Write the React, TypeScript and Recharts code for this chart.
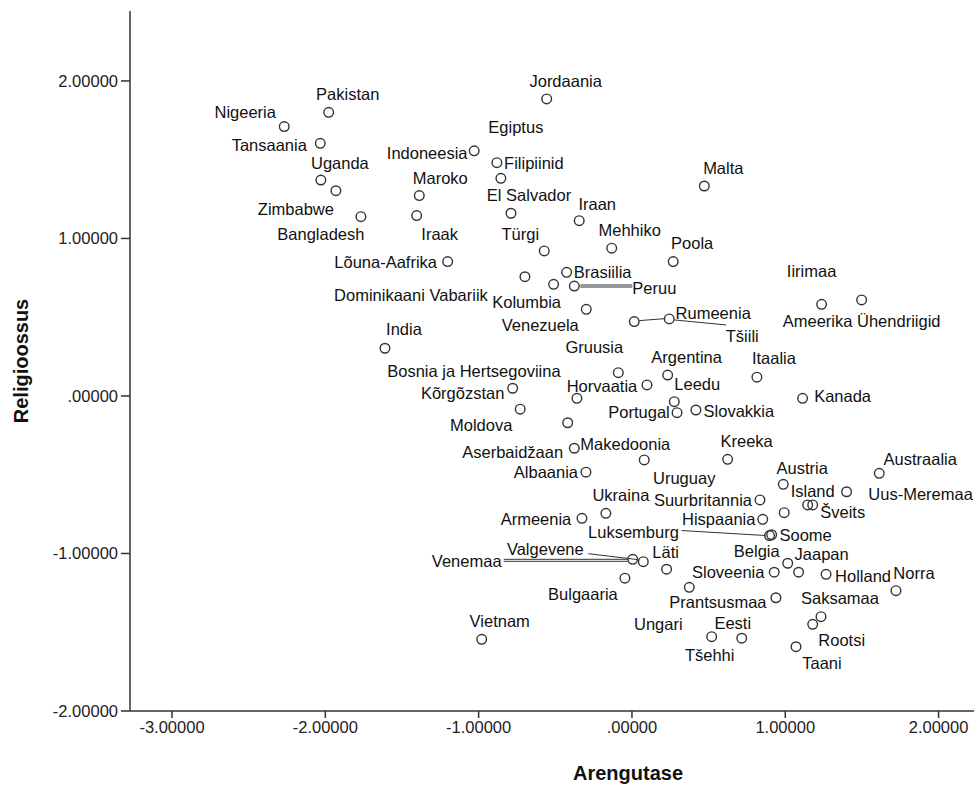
import React from 'react';
import { ScatterChart, Scatter, XAxis, YAxis } from 'recharts';

// country labels, x = Arengutase, y = Religioossus
const countries = [
  'Nigeeria', 'Pakistan', 'Tansaania', 'Uganda', 'Zimbabwe', 'Bangladesh', 'Indoneesia', 'Maroko', 'Iraak',
  'Lõuna-Aafrika', 'Jordaania', 'Filipiinid', 'Egiptus', 'El Salvador', 'Iraan', 'Malta', 'Türgi', 'Mehhiko',
  'Poola', 'Brasiilia', 'Dominikaani Vabariik', 'Kolumbia', 'Peruu', 'Venezuela', 'Tšiili', 'Rumeenia',
  'Iirimaa', 'Ameerika Ühendriigid', 'India', 'Gruusia', 'Argentina', 'Itaalia', 'Bosnia ja Hertsegoviina',
  'Kõrgõzstan', 'Horvaatia', 'Leedu', 'Kanada', 'Portugal', 'Slovakkia', 'Moldova', 'Aserbaidžaan',
  'Makedoonia', 'Uruguay', 'Kreeka', 'Albaania', 'Austria', 'Austraalia', 'Uus-Meremaa', 'Island', 'Šveits',
  'Suurbritannia', 'Hispaania', '', 'Ukraina', 'Armeenia', 'Soome', 'Luksemburg', 'Venemaa', 'Valgevene',
  'Läti', 'Bulgaaria', 'Ungari', 'Belgia', 'Sloveenia', 'Jaapan', 'Holland', 'Norra', 'Prantsusmaa',
  'Saksamaa', 'Rootsi', 'Taani', 'Tšehhi', 'Eesti', 'Vietnam',
];

const arengutase = [
  -2.268, -1.978, -2.033, -2.029, -1.931, -1.768, -1.029, -1.387, -1.404,
  -1.202, -0.556, -0.881, -0.855, -0.789, -0.344, 0.472, -0.572, -0.132,
  0.269, -0.426, -0.698, -0.511, -0.376, -0.298, 0.015, 0.243,
  1.237, 1.498, -1.611, -0.089, 0.233, 0.815, -0.359,
  -0.778, 0.098, 0.276, 1.113, 0.294, 0.417, -0.729, -0.419,
  -0.376, 0.080, 0.624, -0.300, 0.987, 1.613, 1.400, 1.146, 1.179,
  0.835, 0.853, 0.993, -0.170, -0.326, 0.911, 0.897, 0.005, 0.074,
  0.226, -0.046, 0.374, 1.016, 0.928, 1.087, 1.266, 1.722, 0.939,
  1.233, 1.179, 1.070, 0.520, 0.716, -0.980,
];

const religioossus = [
  1.710, 1.801, 1.604, 1.371, 1.303, 1.138, 1.556, 1.272, 1.145,
  0.853, 1.886, 1.481, 1.382, 1.160, 1.113, 1.333, 0.921, 0.938,
  0.853, 0.785, 0.757, 0.709, 0.698, 0.550, 0.472, 0.489,
  0.582, 0.610, 0.303, 0.148, 0.133, 0.119, -0.015,
  0.049, 0.070, -0.036, -0.015, -0.106, -0.089, -0.084, -0.170,
  -0.332, -0.406, -0.402, -0.484, -0.561, -0.491, -0.608, -0.692, -0.692,
  -0.660, -0.783, -0.741, -0.745, -0.777, -0.881, -0.886, -1.037, -1.052,
  -1.100, -1.157, -1.215, -1.062, -1.119, -1.119, -1.132, -1.236, -1.281,
  -1.401, -1.450, -1.592, -1.528, -1.538, -1.545,
];

const xTicks = [-3, -2, -1, 0, 1, 2];
const yTicks = [-2, -1, 0, 1, 2];

const data = countries.map((name, i) => ({ name, x: arengutase[i], y: religioossus[i] }));

// label placement in px relative to the marker (dx, dy), plus optional leader line segments
type Place = { dx: number; dy: number; lines?: number[][] };
const place: Record<string, Place> = {
  'Nigeeria': { dx: -39, dy: -15 },
  'Pakistan': { dx: 19, dy: -18 },
  'Tansaania': { dx: -51, dy: 2 },
  'Uganda': { dx: 19, dy: -17 },
  'Zimbabwe': { dx: -40, dy: 18 },
  'Bangladesh': { dx: -40, dy: 17 },
  'Indoneesia': { dx: -47, dy: 2 },
  'Maroko': { dx: 21, dy: -18 },
  'Iraak': { dx: 23, dy: 18 },
  'Lõuna-Aafrika': { dx: -62, dy: 0 },
  'Jordaania': { dx: 19, dy: -18 },
  'Filipiinid': { dx: 37, dy: 0 },
  'Egiptus': { dx: 15, dy: -51 },
  'El Salvador': { dx: 18, dy: -18 },
  'Iraan': { dx: 18, dy: -17 },
  'Malta': { dx: 19, dy: -18 },
  'Türgi': { dx: -24, dy: -17 },
  'Mehhiko': { dx: 18, dy: -18 },
  'Poola': { dx: 19, dy: -19 },
  'Brasiilia': { dx: 36, dy: 0 },
  'Dominikaani Vabariik': { dx: -114, dy: 18 },
  'Kolumbia': { dx: -27, dy: 18 },
  'Peruu': { dx: 80, dy: 2, lines: [[6, -1, 58, -1], [6, 1, 58, 1]] },
  'Venezuela': { dx: -46, dy: 16 },
  'Tšiili': { dx: 108, dy: 14, lines: [[5, -1, 31, -3]] },
  'Rumeenia': { dx: 44, dy: -6, lines: [[5, 1, 57, 6]] },
  'Iirimaa': { dx: -10, dy: -33 },
  'Ameerika Ühendriigid': { dx: 0, dy: 21 },
  'India': { dx: 19, dy: -19 },
  'Gruusia': { dx: -24, dy: -26 },
  'Argentina': { dx: 19, dy: -18 },
  'Itaalia': { dx: 17, dy: -19 },
  'Bosnia ja Hertsegoviina': { dx: -103, dy: -27 },
  'Kõrgõzstan': { dx: -50, dy: 5 },
  'Horvaatia': { dx: -45, dy: 1 },
  'Leedu': { dx: 23, dy: -18 },
  'Kanada': { dx: 40, dy: -2 },
  'Portugal': { dx: -38, dy: -1 },
  'Slovakkia': { dx: 43, dy: 1 },
  'Moldova': { dx: -39, dy: 16 },
  'Aserbaidžaan': { dx: -55, dy: 29 },
  'Makedoonia': { dx: 51, dy: -4 },
  'Uruguay': { dx: 40, dy: 18 },
  'Kreeka': { dx: 19, dy: -18 },
  'Albaania': { dx: -40, dy: 0 },
  'Austria': { dx: 19, dy: -16 },
  'Austraalia': { dx: 41, dy: -14 },
  'Uus-Meremaa': { dx: 74, dy: 2 },
  'Island': { dx: 5, dy: -14 },
  'Šveits': { dx: 30, dy: 7 },
  'Suurbritannia': { dx: -57, dy: 0 },
  'Hispaania': { dx: -44, dy: 0 },
  'Ukraina': { dx: 15, dy: -18 },
  'Armeenia': { dx: -46, dy: 1 },
  'Soome': { dx: 34, dy: 0 },
  'Luksemburg': { dx: -136, dy: -4, lines: [[-88, -5, -4, 0]] },
  'Venemaa': { dx: -166, dy: 2, lines: [[-129, 0, -5, 0], [-129, 2, -5, 2]] },
  'Valgevene': { dx: -98, dy: -13, lines: [[-55, -8, -5, -2]] },
  'Läti': { dx: -1, dy: -17 },
  'Bulgaaria': { dx: -42, dy: 16 },
  'Ungari': { dx: -31, dy: 37 },
  'Belgia': { dx: -31, dy: -12 },
  'Sloveenia': { dx: -46, dy: 0 },
  'Jaapan': { dx: 23, dy: -18 },
  'Holland': { dx: 37, dy: 2 },
  'Norra': { dx: 18, dy: -18 },
  'Prantsusmaa': { dx: -58, dy: 4 },
  'Saksamaa': { dx: 19, dy: -19 },
  'Rootsi': { dx: 29, dy: 16 },
  'Taani': { dx: 26, dy: 16 },
  'Tšehhi': { dx: -2, dy: 18 },
  'Eesti': { dx: -9, dy: -15 },
  'Vietnam': { dx: 18, dy: -18 },
};

const FONT = '"Liberation Sans", Arial, sans-serif';
const INK = '#333';

const fmt = (v: number) => v.toFixed(5).replace(/^(-?)0\./, '$1.');

const PointShape = (props: any) => {
  const { cx, cy, payload } = props;
  if (cx == null || cy == null) return null;
  const p = place[payload.name];
  return (
    <g>
      <circle cx={cx} cy={cy} r={4.8} fill="none" stroke={INK} strokeWidth={1.4} />
      {p && p.lines && p.lines.map((l, i) => (
        <line key={i} x1={cx + l[0]} y1={cy + l[1]} x2={cx + l[2]} y2={cy + l[3]} stroke={INK} strokeWidth={1} />
      ))}
      {p && (
        <text x={cx + p.dx} y={cy + p.dy} textAnchor="middle" dominantBaseline="central"
          fontFamily={FONT} fontSize={16.5} fill="#111">
          {payload.name}
        </text>
      )}
    </g>
  );
};

const YTitle = (props: any) => {
  const vb = props.viewBox;
  const x = vb.x + 21;
  const y = vb.y + vb.height / 2;
  return (
    <text x={x} y={y} transform={`rotate(-90, ${x}, ${y})`} textAnchor="middle" dominantBaseline="central"
      fontFamily={FONT} fontSize={20} fontWeight="bold" fill="#111">
      Religioossus
    </text>
  );
};

const XTitle = (props: any) => {
  const vb = props.viewBox;
  return (
    <text x={vb.x + 498} y={vb.y + 62} textAnchor="middle" dominantBaseline="central"
      fontFamily={FONT} fontSize={20} fontWeight="bold" fill="#111">
      Arengutase
    </text>
  );
};

export default function App() {
  return (
    <div style={{ position: 'absolute', left: 0, top: 0, width: 974, height: 785, background: '#fff' }}>
      <ScatterChart width={974} height={785} margin={{ top: 11, right: 0, bottom: 0, left: 0 }}>
        <XAxis
          xAxisId="top"
          orientation="top"
          type="number"
          dataKey="x"
          domain={[-3.274, 2.231]}
          allowDataOverflow
          height={0}
          tick={false}
          tickLine={false}
          axisLine={{ stroke: INK, strokeWidth: 1.5 }}
        />
        <XAxis
          type="number"
          dataKey="x"
          domain={[-3.274, 2.231]}
          allowDataOverflow
          ticks={xTicks}
          tickFormatter={fmt}
          height={74}
          tickSize={7}
          tickMargin={3}
          axisLine={{ stroke: INK, strokeWidth: 1.5 }}
          tickLine={{ stroke: INK, strokeWidth: 1.5 }}
          tick={{ fontFamily: FONT, fontSize: 16.5, fill: '#222' }}
          label={{ content: XTitle }}
        />
        <YAxis
          type="number"
          dataKey="y"
          domain={[-2, 2.444]}
          allowDataOverflow
          ticks={yTicks}
          tickFormatter={fmt}
          width={130}
          tickSize={9}
          tickMargin={3}
          axisLine={{ stroke: INK, strokeWidth: 1.5 }}
          tickLine={{ stroke: INK, strokeWidth: 1.5 }}
          tick={{ fontFamily: FONT, fontSize: 16.5, fill: '#222' }}
          label={{ content: YTitle }}
        />
        <Scatter data={data} shape={PointShape} isAnimationActive={false} />
      </ScatterChart>
    </div>
  );
}
